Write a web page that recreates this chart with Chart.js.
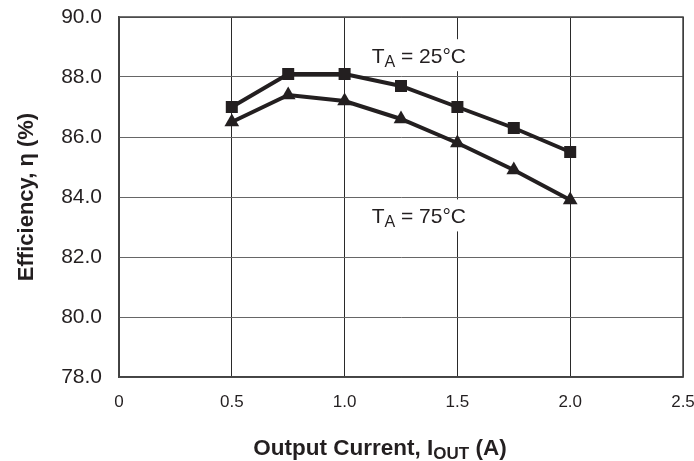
<!DOCTYPE html>
<html>
<head>
<meta charset="utf-8">
<script src="https://cdn.jsdelivr.net/npm/chart.js@4"></script>
<style>
  html, body { margin: 0; padding: 0; background: #fff; }
  #wrap { width: 694px; height: 461px; }
</style>
</head>
<body>
<div id="wrap"><canvas id="effChart" width="694" height="461"></canvas></div>
<script>
const currents = [0.5, 0.75, 1.0, 1.25, 1.5, 1.75, 2.0];
const eff25 = [87.0, 88.1, 88.1, 87.7, 87.0, 86.3, 85.5];
const eff75 = [86.5, 87.4, 87.2, 86.6, 85.8, 84.9, 83.9];
const xTicks = ["0", "0.5", "1.0", "1.5", "2.0", "2.5"];
const yTicks = ["78.0", "80.0", "82.0", "84.0", "86.0", "88.0", "90.0"];

const toPoints = (xs, ys) => xs.map((x, i) => ({ x: x, y: ys[i] }));

// draws text with subscript parts, e.g. T + A(sub)
function drawSub(ctx, parts, x, y, size, subSize, subDrop, weight, align) {
  const fam = "Arial, 'Liberation Sans', sans-serif";
  const big = weight + " " + size + "px " + fam;
  const small = weight + " " + subSize + "px " + fam;
  let total = 0;
  parts.forEach(p => { ctx.font = p.sub ? small : big; total += ctx.measureText(p.t).width; });
  let cx = align === "center" ? x - total / 2 : x;
  ctx.textBaseline = "alphabetic";
  ctx.textAlign = "left";
  parts.forEach(p => {
    ctx.font = p.sub ? small : big;
    ctx.fillText(p.t, cx, p.sub ? y + subDrop : y);
    cx += ctx.measureText(p.t).width;
  });
  return total;
}

const labelsPlugin = {
  id: "labels",
  afterDraw(chart) {
    const ctx = chart.ctx;
    const xs = chart.scales.x;
    const ys = chart.scales.y;
    ctx.save();
    // curve labels
    [[25, 88.46], [75, 83.12]].forEach(([t, v]) => {
      const px = xs.getPixelForValue(1.12);
      const py = ys.getPixelForValue(v);
      ctx.fillStyle = "#fff";
      ctx.fillRect(px - 4, py - 24, 106, 32);
      ctx.fillStyle = "#231f20";
      drawSub(ctx, [{ t: "T" }, { t: "A", sub: true }, { t: " = " + t + "°C" }], px, py, 21, 16, 3.5, "normal", "left");
    });
    // x axis title
    drawSub(ctx, [{ t: "Output Current, I" }, { t: "OUT", sub: true }, { t: " (A)" }],
      380, 455, 22.5, 17, 3.5, "bold", "center");
    // y axis title
    ctx.translate(33, 197);
    ctx.rotate(-Math.PI / 2);
    drawSub(ctx, [{ t: "Efficiency, η (%)" }], 0, 0, 22, 16, 0, "bold", "center");
    ctx.restore();
  }
};

const noOverflow = (scale) => {
  scale.paddingTop = 0;
  scale.paddingBottom = 0;
  scale.paddingLeft = 0;
  scale.paddingRight = 0;
};

const ctx = document.getElementById("effChart").getContext("2d");
const effChart = new Chart(ctx, {
  type: "line",
  data: {
    datasets: [
      {
        label: "TA = 25°C",
        data: toPoints(currents, eff25),
        borderColor: "#231f20",
        backgroundColor: "#231f20",
        borderWidth: 4,
        pointStyle: "rect",
        pointRadius: 8.5,
        pointBorderWidth: 0,
      },
      {
        label: "TA = 75°C",
        data: toPoints(currents, eff75),
        borderColor: "#231f20",
        backgroundColor: "#231f20",
        borderWidth: 4,
        pointStyle: "triangle",
        pointRadius: 8.5,
        pointBorderWidth: 0,
      },
    ],
  },
  options: {
    responsive: false,
    animation: false,
    layout: { padding: { top: 17, right: 11, left: 0, bottom: 0 } },
    plugins: { legend: { display: false }, tooltip: { enabled: false } },
    scales: {
      x: {
        type: "linear",
        min: 0,
        max: 2.5,
        afterBuildTicks(scale) {
          scale.ticks = xTicks.map(v => ({ value: parseFloat(v) }));
        },
        afterFit(scale) { scale.height = 84; noOverflow(scale); },
        ticks: {
          callback: (v, i) => xTicks[i],
          color: "#231f20",
          padding: 15,
          maxRotation: 0,
          font: { family: "Arial, 'Liberation Sans', sans-serif", size: 17 },
        },
        grid: { color: "#2a2a2a", lineWidth: 1, drawTicks: false },
        border: { color: "#444", width: 1.5 },
      },
      y: {
        type: "linear",
        min: 78,
        max: 90,
        afterBuildTicks(scale) {
          scale.ticks = yTicks.map(v => ({ value: parseFloat(v) }));
        },
        afterFit(scale) { scale.width = 119; noOverflow(scale); },
        ticks: {
          callback: (v, i) => yTicks[i],
          color: "#231f20",
          padding: 17,
          font: { family: "Arial, 'Liberation Sans', sans-serif", size: 21 },
        },
        grid: { color: "#666", lineWidth: 1, drawTicks: false },
        border: { color: "#444", width: 1.5 },
      },
    },
  },
  plugins: [labelsPlugin, {
    id: "frame",
    afterDatasetsDraw(chart) {
      const a = chart.chartArea;
      const c = chart.ctx;
      c.save();
      c.strokeStyle = "#444";
      c.lineWidth = 1.5;
      c.strokeRect(a.left, a.top, a.right - a.left, a.bottom - a.top);
      c.restore();
    }
  }],
});
</script>
</body>
</html>
